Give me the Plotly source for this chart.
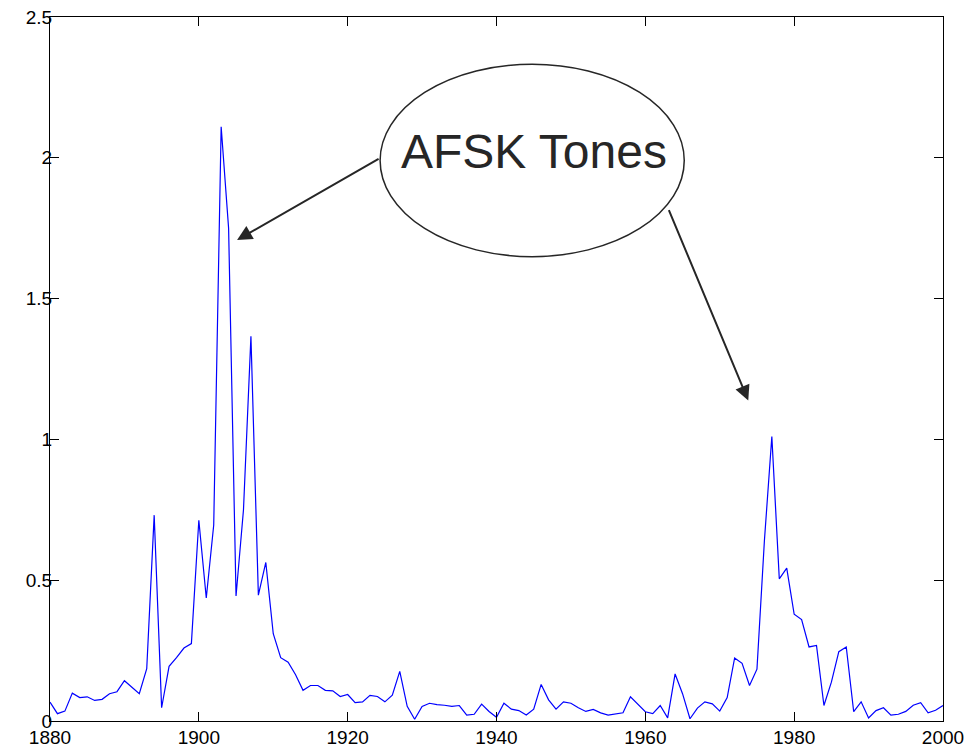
import plotly.graph_objects as go

# Yearly series, 1880-2000
years = list(range(1880, 2001))
values = [
    0.067, 0.026, 0.035, 0.099, 0.083, 0.086, 0.073, 0.077, 0.097, 0.104,  # 1880s
    0.143, 0.120, 0.097, 0.186, 0.731, 0.047, 0.194, 0.225, 0.259, 0.275,  # 1890s
    0.713, 0.437, 0.696, 2.110, 1.750, 0.444, 0.750, 1.366, 0.447, 0.563,  # 1900s
    0.310, 0.225, 0.209, 0.164, 0.109, 0.126, 0.126, 0.109, 0.107, 0.087,  # 1910s
    0.094, 0.065, 0.068, 0.091, 0.087, 0.068, 0.092, 0.176, 0.052, 0.006,  # 1920s
    0.052, 0.063, 0.058, 0.056, 0.052, 0.055, 0.021, 0.024, 0.060, 0.034,  # 1930s
    0.013, 0.063, 0.042, 0.037, 0.021, 0.042, 0.130, 0.075, 0.042, 0.068,  # 1940s
    0.063, 0.047, 0.034, 0.041, 0.029, 0.021, 0.024, 0.029, 0.086, 0.059,  # 1950s
    0.033, 0.026, 0.055, 0.011, 0.167, 0.097, 0.008, 0.046, 0.068, 0.061,  # 1960s
    0.035, 0.083, 0.224, 0.205, 0.126, 0.184, 0.640, 1.010, 0.505, 0.543,  # 1970s
    0.379, 0.360, 0.263, 0.268, 0.055, 0.138, 0.246, 0.263, 0.033, 0.068,  # 1980s
    0.011, 0.037, 0.047, 0.021, 0.024, 0.034, 0.056, 0.065, 0.029, 0.038,  # 1990s
    0.055,                                                                 # 2000
]

x_ticks = [1880, 1900, 1920, 1940, 1960, 1980, 2000]
y_ticks = [0, 0.5, 1, 1.5, 2, 2.5]
y_tick_text = ["0", "0.5", "1", "1.5", "2", "2.5"]

callout_text = "AFSK Tones"
ink = "#262626"
font_family = "Arial, Liberation Sans, Helvetica, sans-serif"

fig = go.Figure()
fig.add_trace(go.Scatter(
    x=years, y=values, mode="lines",
    line=dict(color="#0000ff", width=1.2),
    hoverinfo="skip", showlegend=False,
))

axis_common = dict(
    showline=True, linecolor="black", linewidth=1, mirror="allticks",
    ticks="inside", ticklen=9, tickwidth=1, tickcolor="black",
    showgrid=False, zeroline=False, automargin=False,
    tickfont=dict(family=font_family, size=19, color="black"),
)

fig.update_layout(
    width=967, height=749,
    margin=dict(l=50, r=24, t=17, b=28, autoexpand=False),
    paper_bgcolor="white", plot_bgcolor="white",
    xaxis=dict(range=[1880, 2000], tickvals=x_ticks, ticklabelstandoff=-1,
               **axis_common),
    yaxis=dict(range=[0, 2.5], tickvals=y_ticks, ticktext=y_tick_text,
               ticklabelstandoff=-7, **axis_common),
)

# Callout ellipse with label
fig.add_shape(
    type="circle", xref="x", yref="y",
    x0=1924.36, x1=1965.23, y0=1.649, y1=2.332,
    line=dict(color=ink, width=1.5), fillcolor="white", layer="above",
)
fig.add_annotation(
    x=1945.06, y=2.021, xref="x", yref="y", text=callout_text, showarrow=False,
    font=dict(family=font_family, size=48, color=ink),
)

# Arrows from the callout to the two tone peaks
arrow_style = dict(
    text="", showarrow=True, arrowhead=2, arrowsize=1.5, arrowwidth=2,
    arrowcolor=ink, xref="x", yref="y",
)
fig.add_annotation(x=1905.14, y=1.708, ax=143, ay=-82, **arrow_style)
fig.add_annotation(x=1973.83, y=1.138, ax=-80, ay=-192, **arrow_style)

fig.write_html("out.html")
